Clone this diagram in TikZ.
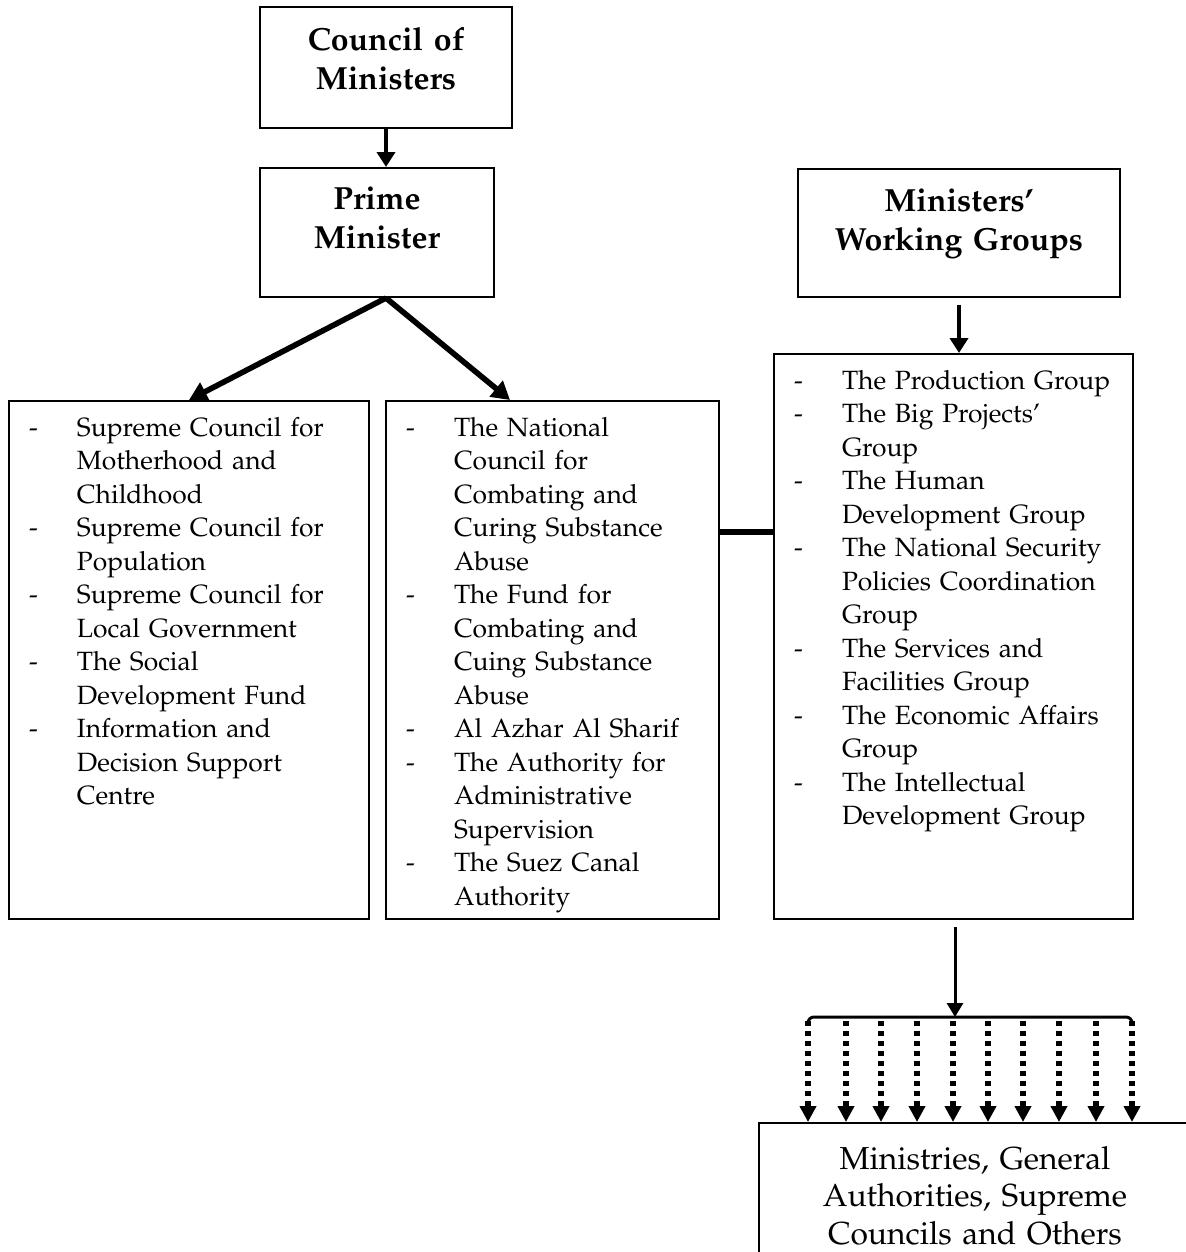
\documentclass[tikz,border=0pt]{standalone}
\usepackage[T1]{fontenc}
\usepackage{mathpazo}
\usetikzlibrary{arrows.meta}

\newcommand{\grp}[1]{\begin{tabular}[t]{@{}p{24pt}@{}l@{}}#1\end{tabular}}

\begin{document}
\begin{tikzpicture}[x=0.5pt,y=-0.5pt,
  head/.style={draw,line width=1pt,anchor=north west,align=center,inner sep=0pt,
    font=\fontsize{16}{19.5}\selectfont\bfseries},
  grpbox/.style={draw,line width=1pt,anchor=north west,align=left,inner ysep=0pt,
    inner xsep=10pt,font=\fontsize{13.2}{16.75}\selectfont},
  fatarrow/.style={line width=2.8pt,-{Triangle[length=9pt,width=10pt]}},
  midarrow/.style={line width=2pt,-{Triangle[length=7.5pt,width=9pt]}},
  dots/.style={line width=2.6pt,dash pattern=on 2.4pt off 2.6pt,
    -{Triangle[length=8pt,width=8pt]}}]
  \useasboundingbox (0,0) rectangle (1186,1252);

  \draw (259,6) node[head,text width=126pt,text height=22pt,text depth=38.5pt] (CM) {Council of\\Ministers};
  \draw (259,167) node[head,text width=117pt,text height=20.5pt,text depth=44pt] (PM) {Prime\\Minister};
  \draw (797,168) node[head,text width=161pt,text height=21pt,text depth=43pt] (WG) {Ministers'\\Working Groups};

  \draw (8,400) node[grpbox,text width=160pt,text height=17.5pt,text depth=241.5pt] (SC)
    {\grp{-&Supreme Council for\\&Motherhood and\\&Childhood\\
      -&Supreme Council for\\&Population\\
      -&Supreme Council for\\&Local Government\\
      -&The Social\\&Development Fund\\
      -&Information and\\&Decision Support\\&Centre}};
  \draw (385,400) node[grpbox,text width=146.5pt,text height=17.5pt,text depth=241.5pt] (NC)
    {\grp{-&The National\\&Council for\\&Combating and\\&Curing Substance\\&Abuse\\
      -&The Fund for\\&Combating and\\&Cuing Substance\\&Abuse\\
      -&Al Azhar Al Sharif\\
      -&The Authority for\\&Administrative\\&Supervision\\
      -&The Suez Canal\\&Authority}};
  \draw (773,353) node[grpbox,text width=159.5pt,text height=17.5pt,text depth=265pt] (WGL)
    {\grp{-&The Production Group\\
      -&The Big Projects'\\&Group\\
      -&The Human\\&Development Group\\
      -&The National Security\\&Policies Coordination\\&Group\\
      -&The Services and\\&Facilities Group\\
      -&The Economic Affairs\\&Group\\
      -&The Intellectual\\&Development Group}};

  \draw (758,1122) node[draw,line width=1pt,anchor=north west,align=center,inner sep=0pt,
    text width=216pt,text height=23pt,text depth=100pt,
    font=\fontsize{15.9}{18.75}\selectfont] (MIN) {Ministries, General\\Authorities, Supreme\\Councils and Others};

  \draw[midarrow] (CM.south) -- (CM.south |- PM.north);
  \draw[fatarrow] (PM.south -| CM.south) -- (SC.north);
  \draw[fatarrow] (PM.south -| CM.south) -- ([xshift=62.5pt]NC.north west);
  \draw[midarrow,shorten <=3.5pt] (WG.south) -- (WG.south |- WGL.north);

  \coordinate (lnk) at (745,532);
  \draw[line width=3pt] (lnk -| NC.east) -- (lnk -| WGL.west);

  % bar over the ministries
  \coordinate (bar) at (955,1017);
  \draw[line width=1.5pt,shorten <=3.5pt,-{Triangle[length=7pt,width=8pt]}] (WGL.south -| bar) -- (bar);
  \draw[line width=1.5pt,rounded corners=3pt] (808,1025) |- (bar) -| (1132,1025);
  \foreach \x in {808,846,881,917,953,988,1023,1059,1096,1132}{
    \coordinate (d) at (\x,1021);
    \draw[dots] (d) -- (d |- MIN.north);
  }
\end{tikzpicture}
\end{document}
